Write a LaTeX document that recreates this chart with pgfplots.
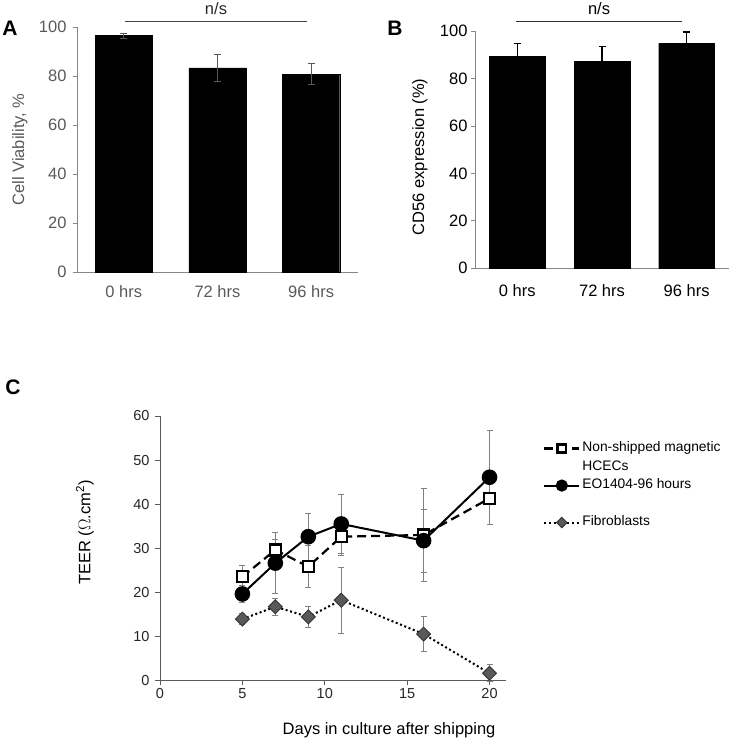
\documentclass[border=0pt]{standalone}
\usepackage{pgfplots}
\pgfplotsset{compat=1.18}
\usepackage{pgfplotstable}
\usepackage{fontspec}
\setmainfont{Liberation Sans}
\definecolor{axgray}{HTML}{868686}
\definecolor{txgray}{HTML}{595959}
\definecolor{ebgray}{HTML}{808080}
\definecolor{cax}{HTML}{5A5A5A}
\definecolor{diafill}{HTML}{595959}
\definecolor{diadraw}{HTML}{383838}
\newcommand{\fs}[1]{\fontsize{#1bp}{#1bp}\selectfont}

\pgfplotstableread{
x y e
0 96.5 1.0
1 83.3 5.5
2 80.7 4.3
}\dataA
\pgfplotstableread{
x y e
0 89.3 5.6
1 87.2 6.5
2 94.9 4.8
}\dataB
\pgfplotstableread{
x y e
5 23.5 2.6
7 29.6 2.3
9 25.8 4.8
11 32.6 4.2
16 33.0 10.5
20 41.3 6.0
}\dataNS
\pgfplotstableread{
x y e
5 19.6 2.0
7 26.6 6.9
9 32.6 5.3
11 35.5 6.7
16 31.7 7.2
20 46.1 10.7
}\dataEO
\pgfplotstableread{
x y e
5 13.9 1.2
7 16.7 2.0
9 14.4 2.4
11 18.2 7.5
16 10.5 4.0
20 1.6 1.9
}\dataFB

\begin{document}
\begin{tikzpicture}
\useasboundingbox (0bp,0bp) rectangle (730bp,744bp);

% ---------------- Panel A ----------------
\begin{axis}[
  at={(77bp,472bp)}, anchor=south west,
  scale only axis, width=281bp, height=245bp,
  axis lines*=left, axis line style={axgray, line width=0.9bp},
  xmin=-0.5, xmax=2.5, ymin=0, ymax=100,
  ytick={0,20,...,100}, xtick={0,1,2}, xticklabels={0 hrs,72 hrs,96 hrs},
  xtick style={draw=none}, ytick style={axgray, line width=0.9bp},
  tick align=outside, major tick length=4bp,
  tick label style={font=\fs{16.5}, text=txgray},
  /pgf/number format/assume math mode=true,
  yticklabel style={xshift=-3bp},
  xticklabel style={yshift=-6bp},
  ylabel={Cell Viability, \%},
  ylabel style={font=\fs{16.5}, text=txgray, at={(axis description cs:-0.203,0.5)}, anchor=center},
  ybar, bar width=0.61,
  clip=false,
]
\addplot[fill=black, draw=black,
  error bars/.cd, y dir=both, y explicit, error mark=|,
  error bar style={txgray, line width=0.9bp},
  error mark options={txgray, line width=0.9bp, mark size=3.5bp}]
  table[x=x, y=y, y error=e]{\dataA};
\end{axis}

% ---------------- Panel B ----------------
\begin{axis}[
  at={(475bp,475.7bp)}, anchor=south west,
  scale only axis, width=254bp, height=237bp,
  axis lines*=left, axis line style={axgray, line width=0.9bp},
  xmin=-0.5, xmax=2.5, ymin=0, ymax=100,
  ytick={0,20,...,100}, xtick={0,1,2}, xticklabels={0 hrs,72 hrs,96 hrs},
  xtick style={draw=none}, ytick style={axgray, line width=0.9bp},
  extra x ticks={-0.5,0.5,1.5,2.5}, extra x tick labels={},
  extra x tick style={tick style={axgray, line width=0.9bp}},
  tick align=outside, major tick length=4bp,
  tick label style={font=\fs{16.5}, text=black},
  /pgf/number format/assume math mode=true,
  yticklabel style={xshift=0bp},
  xticklabel style={yshift=-9bp},
  ylabel={CD56 expression (\%)},
  ylabel style={font=\fs{16.5}, at={(axis description cs:-0.217,0.47)}, anchor=center},
  ybar, bar width=0.66,
  clip=false,
]
\addplot[fill=black, draw=black,
  error bars/.cd, y dir=plus, y explicit, error mark=|,
  error bar style={black, line width=1.2bp},
  error mark options={black, line width=1.2bp, mark size=3.5bp}]
  table[x=x, y=y, y error=e]{\dataB};
\end{axis}

% ---------------- Panel C ----------------
\begin{axis}[
  at={(160bp,63.7bp)}, anchor=south west,
  scale only axis, width=346bp, height=264.3bp,
  axis lines*=left, axis line style={cax, line width=1bp},
  xmin=0, xmax=21, ymin=0, ymax=60,
  xtick={0,5,...,20}, ytick={0,10,...,60},
  tick style={cax, line width=1bp},
  tick align=outside, major tick length=5bp,
  tick label style={font=\fs{14.5}, text=black!85},
  /pgf/number format/assume math mode=true,
  yticklabel style={xshift=-2bp},
  xlabel={Days in culture after shipping},
  xlabel style={font=\fs{16.5}, at={(axis description cs:0.662,-0.19)}, anchor=center},
  ylabel={TEER ($\Omega$.cm\textsuperscript{2})},
  ylabel style={font=\fs{16.5}, at={(axis description cs:-0.217,0.559)}, anchor=center},
  clip=false,
  legend style={at={(1.107,0.905)}, anchor=north west, draw=none, fill=none,
    font=\fs{13.8}, inner sep=0pt, row sep=4bp, cells={anchor=west},
    nodes={inner ysep=0pt, inner xsep=2bp, text height=10.5bp, text depth=4bp}},
  legend image code/.code={\draw[mark repeat=2, mark phase=2, #1, every mark/.append style={scale=0.75}]
     plot coordinates {(0bp,0bp) (17.5bp,0bp) (35bp,0bp)};},
]
\addplot[black, line width=2.2bp, dash pattern=on 9bp off 5bp,
  mark=square*, mark size=5.5bp,
  mark options={solid, fill=white, draw=black, line width=2.4bp},
  error bars/.cd, y dir=both, y explicit, error mark=|,
  error bar style={ebgray, line width=0.8bp, solid},
  error mark options={ebgray, line width=0.8bp, mark size=3bp, solid}]
  table[x=x, y=y, y error=e]{\dataNS};
\addlegendentry{Non-shipped magnetic}
\addlegendimage{empty legend}
\addlegendentry{HCECs}
\addplot[black, line width=2bp, solid,
  mark=*, mark size=6.8bp,
  mark options={solid, fill=black, draw=black},
  error bars/.cd, y dir=both, y explicit, error mark=|,
  error bar style={ebgray, line width=0.8bp, solid},
  error mark options={ebgray, line width=0.8bp, mark size=3bp, solid}]
  table[x=x, y=y, y error=e]{\dataEO};
\addlegendentry{EO1404-96 hours}
\addlegendimage{empty legend}
\addlegendentry{\phantom{x}}
\addplot[black, line width=2bp, dash pattern=on 2bp off 2.6bp,
  mark=square*, mark size=4.9bp,
  mark options={solid, rotate=45, fill=diafill, draw=diadraw, line width=1bp},
  error bars/.cd, y dir=both, y explicit, error mark=|,
  error bar style={ebgray, line width=0.8bp, solid},
  error mark options={ebgray, line width=0.8bp, mark size=3bp, solid}]
  table[x=x, y=y, y error=e]{\dataFB};
\addlegendentry{Fibroblasts}
\end{axis}

% ---------------- annotations ----------------
\draw[txgray!80!black, line width=0.9bp] (125bp,723bp) -- (307bp,723bp);
\node[font=\fs{16.5}, text=black!85] at (216bp,735bp) {n/s};
\draw[black!80, line width=0.9bp] (516bp,723bp) -- (682bp,723bp);
\node[font=\fs{16.5}] at (599bp,735bp) {n/s};

\node[font=\bfseries\fs{21}] at (10bp,716bp) {A};
\node[font=\bfseries\fs{21}] at (395bp,716bp) {B};
\node[font=\bfseries\fs{21}] at (13bp,357bp) {C};
\end{tikzpicture}
\end{document}
